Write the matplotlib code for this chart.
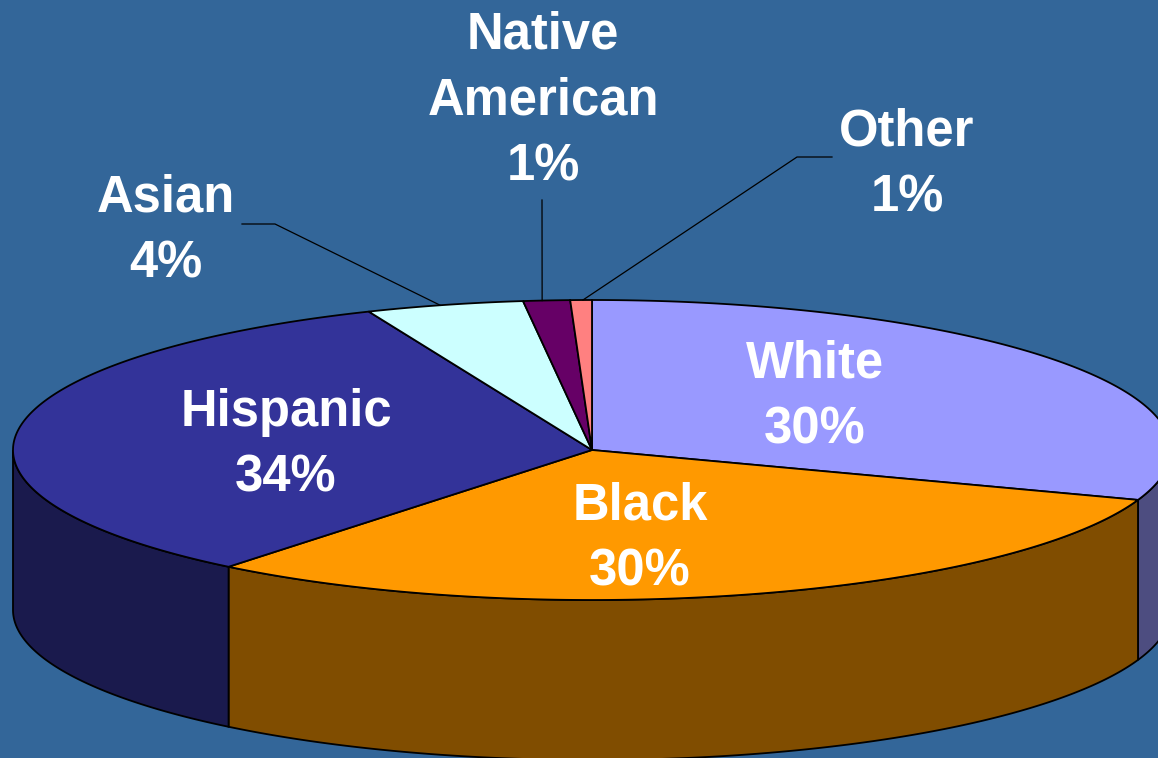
import numpy as np
import matplotlib
matplotlib.use("Agg")
import matplotlib.pyplot as plt
from matplotlib.colors import to_rgb

categories = ["White", "Black", "Hispanic", "Asian", "Native\nAmerican", "Other"]
shares = [30.4, 30.4, 32.9, 4.4, 1.3, 0.6]
percent_labels = ["30%", "30%", "34%", "4%", "1%", "1%"]
colors = ["#9999FF", "#FF9900", "#333399", "#CCFFFF", "#660066", "#FF8080"]

BG = "#336699"
CX, CY = 592, 450
RX, RY = 579, 150
DEPTH = 160

label_pos = [(815, 397), (640, 539), (286, 445), (166, 231), (543, 101), (907, 165)]
# label box end, elbow, angle on the rim, for the three small slices
leaders = {3: (242, 224, 275, 224, 344.8), 4: (542, 200, 542, 200, 355.06), 5: (832, 157, 797, 157, 359.1)}


def ellipse(theta):
    # theta in degrees, clockwise from the top of the pie
    t = np.radians(theta)
    return CX + RX * np.sin(t), CY - RY * np.cos(t)


fig = plt.figure(figsize=(11.58, 7.58), dpi=100, facecolor=BG)
ax = fig.add_axes([0, 0, 1, 1])
ax.set_xlim(0, 1158)
ax.set_ylim(758, 0)
ax.axis("off")

edges = np.concatenate([[0], np.cumsum(shares)]) / sum(shares) * 360

# side walls first, only the front half (90..270 deg) can be seen
for i, c in enumerate(colors):
    lo, hi = max(edges[i], 90), min(edges[i + 1], 270)
    if lo >= hi:
        continue
    th = np.linspace(lo, hi, 200)
    x, y = ellipse(th)
    dark = tuple(v * 0.5 for v in to_rgb(c))
    ax.fill(np.r_[x, x[::-1]], np.r_[y, y[::-1] + DEPTH], fc=dark, ec="black", lw=1.3, zorder=2)

# top face
for i, c in enumerate(colors):
    th = np.linspace(edges[i], edges[i + 1], 200)
    x, y = ellipse(th)
    ax.fill(np.r_[CX, x], np.r_[CY, y], fc=c, ec="black", lw=1.3, zorder=3)

# leader lines to the small slices
for x0, y0, x1, y1, rim in leaders.values():
    xe, ye = ellipse(rim)
    ax.plot([x0, x1, xe], [y0, y1, ye], color="black", lw=0.9, zorder=4)

for name, pct, (x, y) in zip(categories, percent_labels, label_pos):
    ax.text(x, y, name + "\n" + pct, color="white", fontsize=36.5, fontweight="bold",
            family="Liberation Sans", ha="center", va="center", linespacing=1.44, zorder=5)

fig.savefig("out.png", dpi=100, facecolor=BG)
